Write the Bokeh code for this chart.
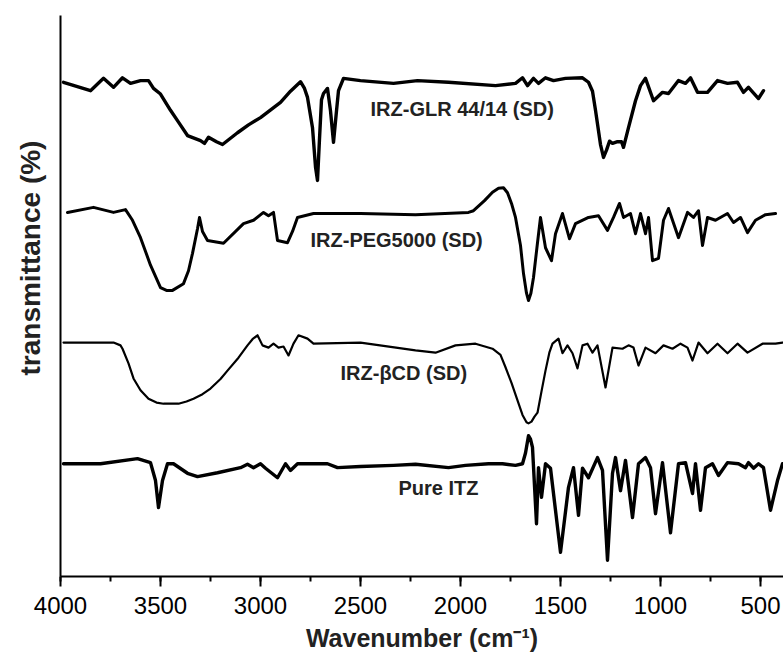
from bokeh.plotting import figure
from bokeh.models import Range1d, SingleIntervalTicker, FixedTicker, Label, Title
from bokeh.embed import file_html
from bokeh.resources import INLINE

# ---- data (wavenumber cm^-1, transmittance a.u. with vertical offsets) ----
glr_wn = [3985, 3850, 3785, 3735, 3690, 3650, 3600, 3560, 3535, 3500, 3450, 3410, 3365, 3300, 3280,
          3260, 3240, 3220, 3190, 3115, 3060, 3000, 2900, 2850, 2800, 2780, 2765, 2740, 2725, 2715,
          2705, 2695, 2685, 2665, 2650, 2635, 2620, 2610, 2585, 2500, 2335, 2215, 2060, 1825,
          1725, 1690, 1665, 1635, 1610, 1575, 1535, 1475, 1390, 1360, 1340, 1325, 1300, 1285, 1270,
          1255, 1240, 1215, 1195, 1185, 1160, 1125, 1100, 1075, 1035, 990, 960, 910, 875, 850, 815,
          765, 715, 665, 615, 585, 560, 510, 485]
glr_t = [88.1, 86.6, 88.8, 87.2, 88.9, 87.9, 88.4, 88.4, 87.0, 86.0, 83.1, 81.0, 78.6, 77.7, 77.2,
         78.3, 77.9, 77.5, 77.0, 79.1, 80.5, 81.8, 84.5, 86.5, 88.2, 87.0, 85.4, 80.0, 73.0, 70.6,
         78.0, 85.0, 86.1, 87.0, 83.0, 77.4, 83.0, 86.6, 88.8, 88.4, 87.9, 88.4, 88.1, 87.5,
         87.9, 88.9, 87.5, 88.8, 87.9, 88.9, 88.4, 88.8, 88.9, 88.1, 86.5, 83.1, 77.0, 74.7, 76.0,
         77.6, 77.2, 77.5, 77.5, 76.5, 80.0, 84.8, 87.5, 88.8, 84.8, 86.3, 86.1, 88.4, 87.9, 88.9, 86.3,
         86.3, 88.4, 87.9, 88.1, 86.3, 87.2, 85.2, 86.6]

peg_wn = [3965, 3835, 3735, 3675, 3640, 3600, 3550, 3500, 3470, 3440, 3385, 3360, 3340, 3315, 3305,
          3290, 3265, 3185, 3085, 3035, 2985, 2960, 2935, 2915, 2865, 2840, 2815, 2735, 2500, 2225,
          1960, 1935, 1880, 1840, 1810, 1785, 1765, 1745, 1725, 1700, 1685, 1670, 1660, 1648, 1635,
          1615, 1600, 1575, 1545, 1525, 1490, 1455, 1425, 1360, 1310, 1265, 1235, 1205, 1185, 1150,
          1125, 1100, 1075, 1060, 1040, 1010, 985, 960, 910, 865, 835, 810, 790, 765, 725, 665,
          635, 600, 565, 525, 475, 425]
peg_t = [64.9, 65.8, 64.9, 65.4, 63.5, 60.4, 55.5, 51.5, 51.0, 51.0, 52.2, 54.5, 57.6, 62.0, 64.0,
         61.5, 59.9, 59.4, 62.9, 63.5, 64.9, 64.3, 64.9, 59.9, 59.5, 61.5, 64.0, 64.7, 64.7, 64.5,
         64.9, 65.2, 67.0, 68.5, 69.2, 69.3, 68.4, 66.5, 64.0, 59.0, 54.0, 50.5, 49.2, 50.5, 53.3,
         59.5, 64.0, 58.6, 56.3, 61.1, 64.7, 60.2, 62.9, 64.0, 64.3, 61.7, 64.0, 66.5, 64.0, 64.7,
         61.1, 64.7, 61.1, 64.0, 56.3, 56.7, 63.5, 65.6, 60.4, 64.9, 64.0, 65.2, 59.0, 64.0, 63.5, 64.7,
         63.1, 64.0, 61.3, 63.5, 64.5, 64.7]

bcd_wn = [3985, 3735, 3700, 3690, 3660, 3635, 3600, 3560, 3520, 3485, 3410, 3370, 3335, 3290, 3250,
          3200, 3165, 3110, 3065, 3040, 3015, 2990, 2960, 2935, 2910, 2885, 2860, 2835, 2810, 2765,
          2735, 2500, 2225, 2125, 2025, 1925, 1840, 1800, 1775, 1745, 1715, 1690, 1670, 1660, 1645,
          1630, 1615, 1595, 1575, 1555, 1540, 1510, 1490, 1465, 1440, 1415, 1390, 1365, 1340, 1315,
          1275, 1240, 1190, 1160, 1135, 1110, 1075, 1025, 985, 940, 900, 865, 840, 810, 765, 715,
          665, 615, 565, 490, 425, 390]
bcd_t = [41.7, 41.7, 41.2, 40.6, 38.0, 35.3, 33.2, 31.7, 31.0, 30.8, 30.8, 31.2, 31.7, 32.5, 33.5,
         35.2, 36.7, 39.0, 41.2, 42.3, 43.0, 41.2, 40.8, 41.5, 40.8, 41.0, 39.4, 41.5, 43.0, 42.4,
         41.5, 41.7, 40.3, 39.9, 41.2, 41.5, 40.6, 39.5, 37.3, 34.5, 31.4, 28.8, 27.5, 27.3, 27.6,
         28.5, 29.2, 33.0, 36.7, 40.0, 41.5, 42.4, 39.8, 41.2, 39.8, 37.1, 41.2, 41.5, 39.9, 41.2,
         33.7, 40.8, 40.6, 41.2, 40.8, 37.6, 40.8, 39.8, 41.2, 40.6, 41.5, 40.8, 38.5, 41.7, 39.8, 41.5,
         39.8, 41.5, 39.9, 41.5, 41.5, 41.7]

itz_wn = [3985, 3800, 3615, 3550, 3525, 3510, 3490, 3465, 3435, 3365, 3315, 3215, 3100, 3065, 3035,
          3000, 2975, 2915, 2875, 2850, 2815, 2735, 2665, 2615, 2500, 2335, 2225, 2060, 1975, 1860,
          1790, 1725, 1690, 1675, 1660, 1650, 1640, 1620, 1610, 1595, 1575, 1550, 1500, 1460, 1435,
          1410, 1390, 1360, 1315, 1290, 1265, 1240, 1225, 1200, 1175, 1140, 1110, 1075, 1050, 1025,
          990, 950, 910, 875, 840, 825, 800, 775, 740, 710, 665, 610, 575, 560, 535, 510, 485, 450,
          415, 390]
itz_t = [20.1, 20.1, 21.0, 20.3, 17.1, 12.3, 17.1, 20.1, 20.1, 18.4, 17.8, 18.5, 19.4, 20.0, 19.4,
         20.1, 19.3, 17.6, 20.1, 18.9, 20.1, 20.1, 20.1, 19.4, 19.6, 19.8, 20.0, 19.4, 19.8, 20.1,
         20.1, 19.8, 20.1, 22.0, 25.1, 24.5, 23.0, 9.4, 19.4, 14.1, 20.1, 19.3, 4.3, 15.9, 19.4,
         10.9, 19.3, 17.6, 21.2, 18.9, 2.9, 18.4, 21.2, 15.3, 20.7, 10.5, 20.1, 21.2, 19.4, 11.2,
         20.3, 7.8, 20.1, 20.3, 14.8, 20.1, 11.8, 19.4, 20.1, 18.0, 20.3, 20.1, 19.4, 20.3, 19.3,
         20.1, 19.4, 11.8, 17.1, 20.1]

series_names = ["IRZ-GLR 44/14 (SD)", "IRZ-PEG5000 (SD)", "IRZ-\u03b2CD (SD)", "Pure ITZ"]
x_ticks_interval = 500

FONT = "Liberation Sans"

p = figure(width=783, height=655,
           x_range=Range1d(4000, 385), y_range=Range1d(0, 100),
           output_backend="svg", toolbar_location=None,
           min_border_left=60, min_border_right=0, min_border_top=15, min_border_bottom=79)
p.outline_line_color = None
p.xgrid.visible = False
p.ygrid.visible = False
p.background_fill_color = "white"
p.border_fill_color = "white"

widths = [3.4, 3.0, 2.2, 3.4]
for wn, t, w in zip([glr_wn, peg_wn, bcd_wn, itz_wn], [glr_t, peg_t, bcd_t, itz_t], widths):
    p.line(wn, t, line_color="black", line_width=w, line_join="round", line_cap="round")

# series labels
label_pos = [(2450, 83.4), (2750, 59.9), (2600, 36.2), (2310, 15.7)]
for name, (lx, ly) in zip(series_names, label_pos):
    p.add_layout(Label(x=lx, y=ly, text=name, text_font=FONT, text_font_size="20px",
                       text_font_style="bold", text_color="#222222",
                       text_align="left", text_baseline="middle"))

# x axis
xa = p.xaxis[0]
xa.ticker = SingleIntervalTicker(interval=x_ticks_interval, num_minor_ticks=2)
xa.axis_line_width = 2
xa.axis_line_color = "black"
xa.major_tick_line_width = 2
xa.minor_tick_line_width = 2
xa.major_tick_in = 0
xa.major_tick_out = 10
xa.minor_tick_in = 0
xa.minor_tick_out = 5
xa.major_label_text_font = FONT
xa.major_label_text_font_size = "24px"
xa.major_label_text_color = "black"
xa.major_label_standoff = 10
xa.axis_label = "Wavenumber (cm\u207b\u00b9)"
xa.axis_label_text_font = FONT
xa.axis_label_text_font_size = "25px"
xa.axis_label_text_font_style = "bold"
xa.axis_label_text_color = "#222222"
xa.axis_label_standoff = 7

# y axis: line only
ya = p.yaxis[0]
ya.ticker = FixedTicker(ticks=[])
ya.axis_line_width = 2
ya.axis_line_color = "black"
ya.major_tick_line_color = None
ya.minor_tick_line_color = None
ya.major_tick_in = 0
ya.major_tick_out = 0
ya.minor_tick_in = 0
ya.minor_tick_out = 0
ya.major_label_standoff = 0
ya.axis_label_standoff = 0
ya.major_label_text_font_size = "0px"

ytitle = Title(text="transmittance (%)", align="left", vertical_align="top", offset=201,
               text_font=FONT, text_font_size="28px", text_font_style="bold",
               text_color="#222222", standoff=26)
p.add_layout(ytitle, "left")

open("out.html", "w").write(file_html(p, INLINE))
